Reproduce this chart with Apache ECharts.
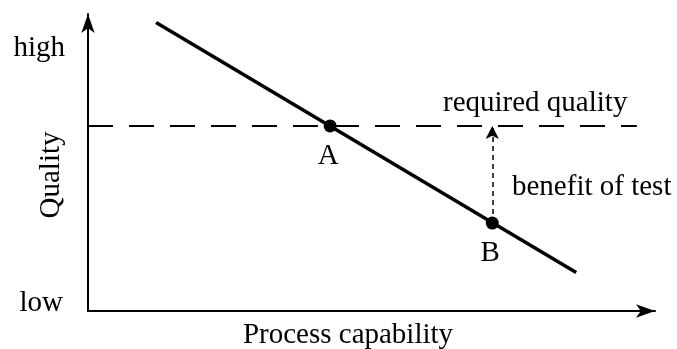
<!DOCTYPE html>
<html>
<head>
<meta charset="utf-8">
<script src="https://cdn.jsdelivr.net/npm/echarts@6/dist/echarts.min.js"></script>
<style>
    html, body { margin: 0; padding: 0; background: #fff; }
    #chart { width: 677px; height: 349px; }
</style>
</head>
<body>
<div id="chart"></div>
<script>
    // values, both axes 0..100 (low..high)
    var capabilityLineX = [12.0, 86.1];
    var capabilityLineY = [97.1, 13.0];
    var pointNames = ['A', 'B'];
    var pointX = [42.7, 71.3];
    var pointY = [62.3, 29.6];
    var requiredQuality = 62.3;
    var requiredLineX = [0, 96.8];
    var yTickLabels = ['low', 'high'];

    var font = 'Liberation Serif';
    var chart = echarts.init(document.getElementById('chart'));

    var lineData = capabilityLineX.map(function (x, i) { return [x, capabilityLineY[i]]; });
    var requiredData = requiredLineX.map(function (x) { return [x, requiredQuality]; });
    var pointData = pointNames.map(function (n, i) {
        return { name: n, value: [pointX[i], pointY[i]] };
    });

    var option = {
        animation: false,
        grid: { left: 88, right: 22, top: 14, bottom: 38 },
        xAxis: {
            type: 'value', min: 0, max: 100,
            splitLine: { show: false }, axisTick: { show: false }, axisLabel: { show: false },
            axisLine: {
                lineStyle: { color: '#000', width: 2 },
                symbol: ['none', 'arrow'], symbolSize: [10, 19]
            }
        },
        yAxis: {
            type: 'value', min: 0, max: 100,
            splitLine: { show: false }, axisTick: { show: false }, axisLabel: { show: false },
            axisLine: {
                lineStyle: { color: '#000', width: 2 },
                symbol: ['none', 'arrow'], symbolSize: [10, 19]
            }
        },
        graphic: [
            { type: 'text', x: 65, y: 63, style: { text: yTickLabels[1], font: '29px ' + font, fill: '#000', align: 'right', verticalAlign: 'bottom' } },
            { type: 'text', x: 63, y: 318, style: { text: yTickLabels[0], font: '29px ' + font, fill: '#000', align: 'right', verticalAlign: 'bottom' } },
            { type: 'text', x: 51, y: 175, rotation: Math.PI / 2, style: { text: 'Quality', font: '29px ' + font, fill: '#000', align: 'center', verticalAlign: 'middle' } },
            { type: 'text', x: 348, y: 335, style: { text: 'Process capability', font: '29px ' + font, fill: '#000', align: 'center', verticalAlign: 'middle' } },
            { type: 'text', x: 443, y: 103, style: { text: 'required quality', font: '29px ' + font, fill: '#000', align: 'left', verticalAlign: 'middle' } },
            { type: 'text', x: 512, y: 187, style: { text: 'benefit of test', font: '29px ' + font, fill: '#000', align: 'left', verticalAlign: 'middle' } }
        ],
        series: [
            {
                type: 'line', data: requiredData, symbol: 'none', silent: true,
                lineStyle: { color: '#000', width: 2, type: [25, 16] }
            },
            {
                type: 'line', data: lineData, symbol: 'none', silent: true,
                lineStyle: { color: '#000', width: 3.5 },
                markLine: {
                    silent: true,
                    symbol: ['none', 'arrow'], symbolSize: [10, 13],
                    label: { show: false },
                    lineStyle: { color: '#000', width: 1.5, type: [5, 4] },
                    data: [[{ coord: [pointX[1], pointY[1]] }, { coord: [pointX[1], requiredQuality] }]]
                }
            },
            {
                type: 'scatter', data: pointData, symbolSize: 13, silent: true,
                itemStyle: { color: '#000', opacity: 1 },
                label: {
                    show: true, position: 'inside', offset: [-2, 30],
                    formatter: '{b}', color: '#000', fontFamily: font, fontSize: 29
                }
            }
        ]
    };
    chart.setOption(option);
</script>
</body>
</html>
